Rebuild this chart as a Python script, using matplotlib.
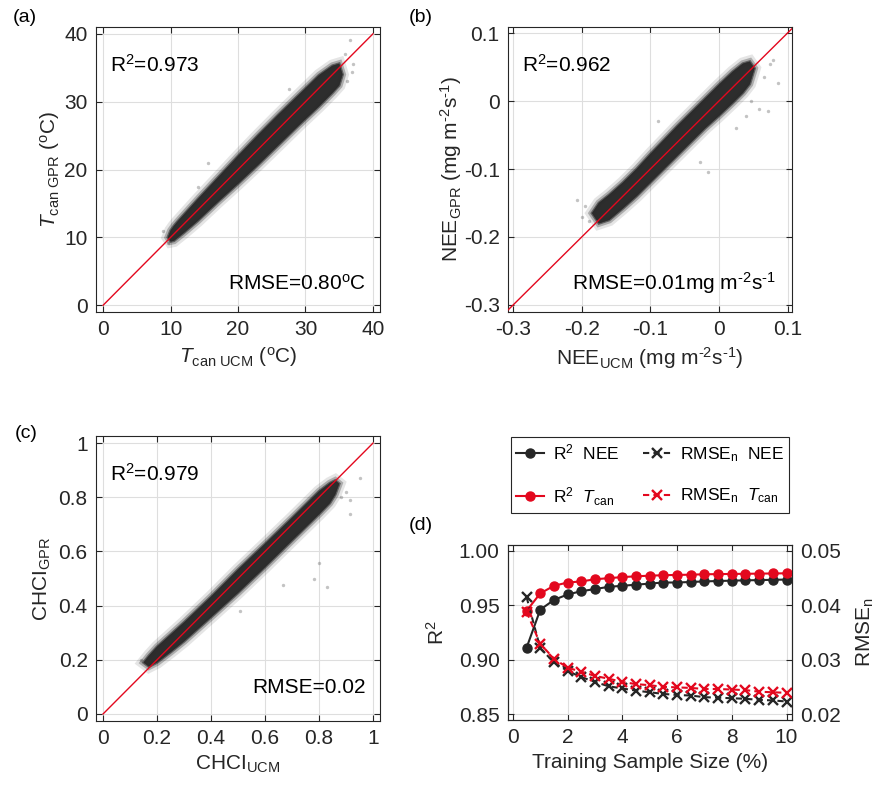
import numpy as np
import matplotlib
matplotlib.use("Agg")
import matplotlib.pyplot as plt
import matplotlib.patheffects as pe

plt.rcParams["font.family"] = ["Liberation Sans", "DejaVu Sans"]
plt.rcParams["mathtext.fontset"] = "custom"
plt.rcParams["mathtext.rm"] = "Liberation Sans"
plt.rcParams["mathtext.it"] = "Liberation Sans:italic"
plt.rcParams["mathtext.bf"] = "Liberation Sans:bold"
plt.rcParams["axes.unicode_minus"] = False

INK = "#262626"
RED = "#e3081e"
CLOUD = "#2b2b2b"

# ---- (a) canopy temperature: outline of the dense point cloud (x, lower, upper)
ta_cloud_x = [9.6, 10.0, 10.5, 11, 12, 14, 17, 20, 23, 26, 29, 32, 34, 35.0, 35.5]
ta_cloud_lo = [10.0, 9.4, 9.5, 9.9, 10.7, 12.4, 15.2, 17.9, 20.7, 23.6, 26.5, 29.3, 31.3, 32.4, 34.0]
ta_cloud_hi = [10.0, 11.0, 11.7, 12.3, 13.4, 15.6, 18.8, 22.0, 25.1, 28.1, 31.0, 33.9, 35.3, 35.6, 34.0]
ta_out_x = [36.6, 37.1, 36.9, 8.9, 15.6, 35.8, 9.6, 36.2, 14.0, 27.5]
ta_out_y = [39.1, 35.6, 34.4, 11.0, 20.9, 37.0, 9.2, 33.0, 17.5, 31.8]

# ---- (b) NEE
nee_cloud_x = [-0.185, -0.175, -0.16, -0.14, -0.12, -0.1, -0.08, -0.06, -0.04, -0.02,
               0.0, 0.02, 0.035, 0.045, 0.052]
nee_cloud_lo = [-0.165, -0.18, -0.175, -0.158, -0.14, -0.12, -0.1, -0.08, -0.06, -0.04,
                -0.022, -0.003, 0.012, 0.025, 0.048]
nee_cloud_hi = [-0.165, -0.15, -0.138, -0.12, -0.1, -0.078, -0.057, -0.036, -0.016, 0.004,
                0.024, 0.043, 0.055, 0.058, 0.048]
nee_out_x = [0.086, 0.059, 0.071, 0.047, -0.016, -0.028, 0.04, 0.025,
             -0.089, 0.079, 0.075, -0.207, -0.2, -0.19, -0.195, 0.065]
nee_out_y = [0.027, -0.012, -0.015, 0.0, -0.105, -0.09, -0.022, -0.039,
             -0.029, 0.061, 0.055, -0.145, -0.17, -0.176, -0.155, 0.035]

# ---- (c) CHCI
chci_cloud_x = [0.15, 0.17, 0.2, 0.25, 0.3, 0.4, 0.5, 0.6, 0.7, 0.8, 0.84, 0.86, 0.875]
chci_cloud_lo = [0.19, 0.175, 0.19, 0.228, 0.268, 0.357, 0.447, 0.542, 0.64, 0.737, 0.778, 0.81, 0.85]
chci_cloud_hi = [0.19, 0.215, 0.248, 0.293, 0.338, 0.433, 0.533, 0.628, 0.724, 0.822, 0.852, 0.862, 0.85]
chci_out_x = [0.915, 0.915, 0.83, 0.80, 0.668, 0.507, 0.95, 0.9, 0.78, 0.14, 0.88]
chci_out_y = [0.79, 0.74, 0.47, 0.557, 0.477, 0.379, 0.87, 0.82, 0.5, 0.2, 0.8]

# ---- (d) sensitivity to training sample size
sample_pct = [0.5, 1.0, 1.5, 2.0, 2.5, 3.0, 3.5, 4.0, 4.5, 5.0,
              5.5, 6.0, 6.5, 7.0, 7.5, 8.0, 8.5, 9.0, 9.5, 10.0]
r2_nee = [0.911, 0.946, 0.955, 0.960, 0.963, 0.965, 0.967, 0.968, 0.969, 0.970,
          0.971, 0.971, 0.9715, 0.972, 0.9724, 0.9727, 0.973, 0.9732, 0.9735, 0.9737]
r2_tcan = [0.945, 0.961, 0.968, 0.971, 0.972, 0.974, 0.975, 0.976, 0.9767, 0.9773,
           0.9777, 0.978, 0.9782, 0.9786, 0.9787, 0.9789, 0.979, 0.9792, 0.9793, 0.9795]
rmse_nee = [0.0415, 0.0321, 0.0295, 0.0279, 0.0268, 0.0259, 0.0251, 0.0247, 0.0243, 0.0240,
            0.0237, 0.0235, 0.0234, 0.0231, 0.0230, 0.0229, 0.0228, 0.0226, 0.0225, 0.0223]
rmse_tcan = [0.0388, 0.0329, 0.0302, 0.0285, 0.0278, 0.0270, 0.0265, 0.0259, 0.0255, 0.0253,
             0.0250, 0.0249, 0.0248, 0.0246, 0.0246, 0.0245, 0.0244, 0.0241, 0.0240, 0.0239]


def style_box(ax, xlim, ylim, xticks, yticks, xlabels=None, ylabels=None):
    ax.set_xlim(*xlim)
    ax.set_ylim(*ylim)
    ax.set_xticks(xticks)
    ax.set_yticks(yticks)
    if xlabels is not None:
        ax.set_xticklabels(xlabels)
    if ylabels is not None:
        ax.set_yticklabels(ylabels)
    ax.grid(True, color="#dedede", linewidth=0.8)
    ax.set_axisbelow(True)
    ax.tick_params(direction="in", length=4, width=0.8, colors=INK,
                   labelsize=15, top=True, right=True, pad=6)
    for s in ax.spines.values():
        s.set_color(INK)
        s.set_linewidth(0.8)


def draw_cloud(ax, cx, clo, chi, ox, oy):
    # dense core as a filled outline with a soft fringe, sparse points on top
    px = np.concatenate([cx, cx[::-1]])
    py = np.concatenate([chi, clo[::-1]])
    poly, = ax.fill(px, py, color=CLOUD, alpha=0.95, linewidth=0, zorder=3)
    poly.set_path_effects([
        pe.Stroke(linewidth=9, foreground=CLOUD, alpha=0.12),
        pe.Stroke(linewidth=5, foreground=CLOUD, alpha=0.3),
        pe.Stroke(linewidth=2, foreground=CLOUD, alpha=0.6),
        pe.Normal(),
    ])
    ax.scatter(ox, oy, s=6, color="#555555", alpha=0.35, linewidths=0, zorder=2)


fig = plt.figure(figsize=(8.85, 7.96), dpi=100)

# panel positions (left, bottom, width, height)
ax_a = fig.add_axes([0.1085, 0.608, 0.3209, 0.358])
ax_b = fig.add_axes([0.574, 0.608, 0.3209, 0.358])
ax_c = fig.add_axes([0.1085, 0.0942, 0.3209, 0.358])
ax_d = fig.add_axes([0.574, 0.0955, 0.3209, 0.2198])

# (a)
draw_cloud(ax_a, np.array(ta_cloud_x), np.array(ta_cloud_lo), np.array(ta_cloud_hi),
           ta_out_x, ta_out_y)
ax_a.plot([0, 40], [0, 40], color=RED, linewidth=1, zorder=4)
style_box(ax_a, (-1.05, 41.05), (-1.0, 41.0), [0, 10, 20, 30, 40], [0, 10, 20, 30, 40])
ax_a.set_xlabel("$T_{\\rm can\\ UCM}$ ($^{\\rm o}$C)", fontsize=15, color=INK, labelpad=4)
ax_a.set_ylabel("$T_{\\rm can\\ GPR}$ ($^{\\rm o}$C)", fontsize=15, color=INK, labelpad=2)
ax_a.text(0.049, 0.867, "R$^2$=0.973", transform=ax_a.transAxes, fontsize=15,
          color="black", va="center")
ax_a.text(0.951, 0.10, "RMSE=0.80$^{\\rm o}$C", transform=ax_a.transAxes, fontsize=15,
          color="black", va="center", ha="right")

# (b)
draw_cloud(ax_b, np.array(nee_cloud_x), np.array(nee_cloud_lo), np.array(nee_cloud_hi),
           nee_out_x, nee_out_y)
ax_b.axline((0, 0), slope=1, color=RED, linewidth=1, zorder=4)
nee_ticks = [-0.3, -0.2, -0.1, 0, 0.1]
nee_labels = ["-0.3", "-0.2", "-0.1", "0", "0.1"]
style_box(ax_b, (-0.3075, 0.1065), (-0.3104, 0.1088), nee_ticks, nee_ticks, nee_labels, nee_labels)
ax_b.set_xlabel("NEE$_{\\rm UCM}$ (mg m$^{\\text{-2}}$s$^{\\text{-1}}$)", fontsize=15,
                color=INK, labelpad=4)
ax_b.set_ylabel("NEE$_{\\rm GPR}$ (mg m$^{\\text{-2}}$s$^{\\text{-1}}$)", fontsize=15,
                color=INK, labelpad=0)
ax_b.text(0.048, 0.867, "R$^2$=0.962", transform=ax_b.transAxes, fontsize=15,
          color="black", va="center")
ax_b.text(0.944, 0.10, "RMSE=0.01mg m$^{\\text{-2}}$s$^{\\text{-1}}$", transform=ax_b.transAxes,
          fontsize=15, color="black", va="center", ha="right")

# (c)
draw_cloud(ax_c, np.array(chci_cloud_x), np.array(chci_cloud_lo), np.array(chci_cloud_hi),
           chci_out_x, chci_out_y)
ax_c.plot([0, 1], [0, 1], color=RED, linewidth=1, zorder=4)
chci_ticks = [0, 0.2, 0.4, 0.6, 0.8, 1]
chci_labels = ["0", "0.2", "0.4", "0.6", "0.8", "1"]
style_box(ax_c, (-0.026, 1.026), (-0.026, 1.026), chci_ticks, chci_ticks, chci_labels, chci_labels)
ax_c.set_xlabel("CHCI$_{\\rm UCM}$", fontsize=15, color=INK, labelpad=4)
ax_c.set_ylabel("CHCI$_{\\rm GPR}$", fontsize=15, color=INK, labelpad=4)
ax_c.text(0.049, 0.867, "R$^2$=0.979", transform=ax_c.transAxes, fontsize=15,
          color="black", va="center")
ax_c.text(0.951, 0.116, "RMSE=0.02", transform=ax_c.transAxes, fontsize=15,
          color="black", va="center", ha="right")

# (d)
ax_r = ax_d.twinx()
h1, = ax_d.plot(sample_pct, r2_nee, "-o", color=INK, linewidth=1.5, markersize=6.5, zorder=3)
h2, = ax_d.plot(sample_pct, r2_tcan, "-o", color=RED, linewidth=1.5, markersize=6.5, zorder=4)
h3, = ax_r.plot(sample_pct, rmse_nee, "--x", color=INK, linewidth=1.5, markersize=7,
                markeredgewidth=1.7, dashes=(3, 2))
h4, = ax_r.plot(sample_pct, rmse_tcan, "--x", color=RED, linewidth=1.5, markersize=7,
                markeredgewidth=1.7, dashes=(3, 2))
style_box(ax_d, (-0.18, 10.2), (0.8445, 1.0055), [0, 2, 4, 6, 8, 10],
          [0.85, 0.90, 0.95, 1.00], None, ["0.85", "0.90", "0.95", "1.00"])
ax_d.tick_params(right=False)
ax_r.set_ylim(0.0189, 0.0511)
ax_r.set_yticks([0.02, 0.03, 0.04, 0.05])
ax_r.set_yticklabels(["0.02", "0.03", "0.04", "0.05"])
ax_r.tick_params(direction="in", length=4, width=0.8, colors=INK, labelsize=15, pad=6)
for s in ax_r.spines.values():
    s.set_color(INK)
    s.set_linewidth(0.8)
ax_d.set_xlabel("Training Sample Size (%)", fontsize=15, color=INK, labelpad=4)
ax_d.set_ylabel("R$^2$", fontsize=15, color=INK, labelpad=8)
ax_r.set_ylabel("RMSE$_{\\rm n}$", fontsize=15, color=INK, labelpad=10)

leg = fig.legend([h1, h2, h3, h4],
                 ["R$^2$  NEE", "R$^2$  $T_{\\rm can}$",
                  "RMSE$_{\\rm n}$  NEE", "RMSE$_{\\rm n}$  $T_{\\rm can}$"],
                 ncol=2, loc="center",
                 bbox_to_anchor=(650 / 885, 1 - 475 / 796),
                 fontsize=12.5, frameon=True, fancybox=False, framealpha=1,
                 edgecolor=INK, handlelength=1.6, handletextpad=0.5,
                 labelspacing=1.3, borderpad=0.3, columnspacing=1.4)
leg.get_frame().set_linewidth(0.8)

# panel letters
for label, (px, py) in {"(a)": (25, 18), "(b)": (421, 18),
                        "(c)": (26, 433), "(d)": (421, 526)}.items():
    fig.text(px / 885, 1 - py / 796, label, fontsize=14, color="black",
             ha="center", va="center")

fig.savefig("out.png", dpi=100, facecolor="white")
